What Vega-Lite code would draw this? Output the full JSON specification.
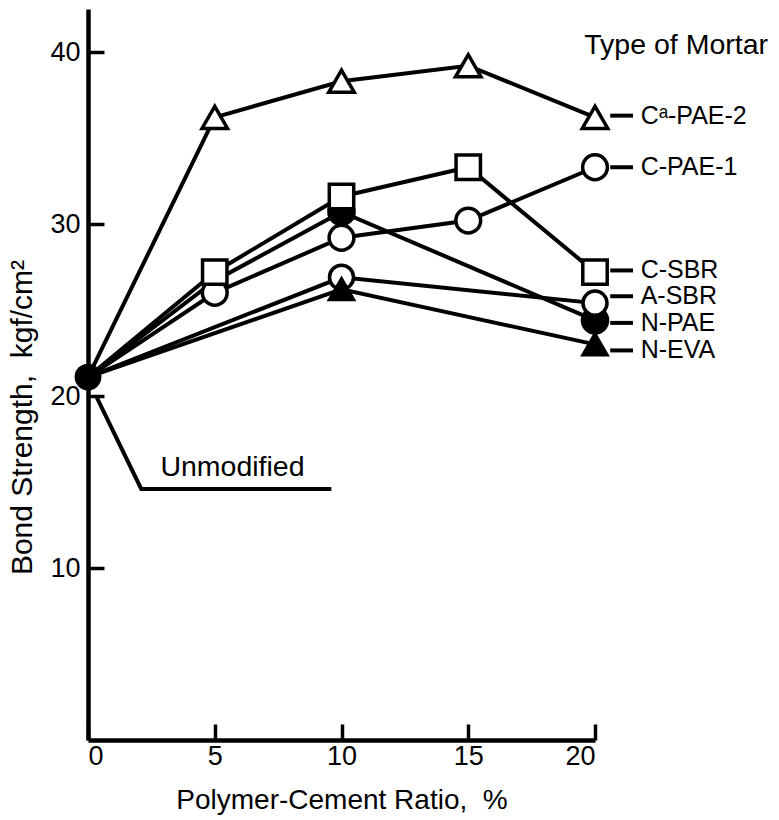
{
  "$schema": "https://vega.github.io/schema/vega-lite/v6.json",
  "width": 507,
  "height": 731,
  "autosize": {"type": "none"},
  "padding": {"left": 88, "top": 9, "right": 184, "bottom": 80},
  "background": "white",
  "config": {
    "view": {"stroke": null},
    "font": "Liberation Sans",
    "axis": {
      "domainColor": "black", "domainWidth": 4.5, "tickColor": "black", "tickWidth": 3.5,
      "tickSize": -16, "grid": false, "labelColor": "black", "titleColor": "black",
      "labelFont": "Liberation Sans", "titleFont": "Liberation Sans",
      "labelFontSize": 27, "titleFontSize": 28, "titleFontWeight": "normal"
    }
  },
  "datasets": {
    "series": [
      {"series": "Ca-PAE-2", "x": 0, "y": 21.1},
      {"series": "Ca-PAE-2", "x": 5, "y": 36.2},
      {"series": "Ca-PAE-2", "x": 10, "y": 38.3},
      {"series": "Ca-PAE-2", "x": 15, "y": 39.2},
      {"series": "Ca-PAE-2", "x": 20, "y": 36.2},
      {"series": "N-PAE", "x": 0, "y": 21.1},
      {"series": "N-PAE", "x": 5, "y": 26.7},
      {"series": "N-PAE", "x": 10, "y": 30.7},
      {"series": "N-PAE", "x": 20, "y": 24.4},
      {"series": "C-PAE-1", "x": 0, "y": 21.1},
      {"series": "C-PAE-1", "x": 5, "y": 26.0},
      {"series": "C-PAE-1", "x": 10, "y": 29.2},
      {"series": "C-PAE-1", "x": 15, "y": 30.2},
      {"series": "C-PAE-1", "x": 20, "y": 33.3},
      {"series": "C-SBR", "x": 0, "y": 21.1},
      {"series": "C-SBR", "x": 5, "y": 27.2},
      {"series": "C-SBR", "x": 10, "y": 31.6},
      {"series": "C-SBR", "x": 15, "y": 33.3},
      {"series": "C-SBR", "x": 20, "y": 27.2},
      {"series": "A-SBR", "x": 0, "y": 21.1},
      {"series": "A-SBR", "x": 10, "y": 26.9},
      {"series": "A-SBR", "x": 20, "y": 25.4},
      {"series": "N-EVA", "x": 0, "y": 21.1},
      {"series": "N-EVA", "x": 10, "y": 26.2},
      {"series": "N-EVA", "x": 20, "y": 23.0}
    ],
    "labels": [
      {"series": "Ca-PAE-2", "label": "Cᵃ-PAE-2", "y": 36.3},
      {"series": "C-PAE-1", "label": "C-PAE-1", "y": 33.3},
      {"series": "C-SBR", "label": "C-SBR", "y": 27.3},
      {"series": "A-SBR", "label": "A-SBR", "y": 25.8},
      {"series": "N-PAE", "label": "N-PAE", "y": 24.25},
      {"series": "N-EVA", "label": "N-EVA", "y": 22.65}
    ],
    "unmodLeader": [
      {"step": 1, "x": 0.35, "y": 19.9},
      {"step": 2, "x": 2.1, "y": 14.6},
      {"step": 3, "x": 9.6, "y": 14.6}
    ],
    "notes": [
      {"text": "Unmodified", "x": 5.7, "y": 15.9},
      {"text": "Type of Mortar", "x": 23.2, "y": 40.4}
    ],
    "origin": [{"x": 0, "y": 21.1}]
  },
  "layer": [
    {
      "data": {"name": "series"},
      "mark": {"type": "line", "color": "black", "strokeWidth": 4},
      "encoding": {
        "x": {"field": "x", "type": "quantitative",
          "scale": {"domain": [0, 20], "nice": false},
          "axis": {"values": [0, 5, 10, 15, 20], "labelPadding": 19,
            "title": "Polymer-Cement Ratio,\u00a0 %", "titleY": 60, "titleBaseline": "middle"}},
        "y": {"field": "y", "type": "quantitative",
          "scale": {"domain": [0, 42.5], "nice": false},
          "axis": {"values": [10, 20, 30, 40], "labelPadding": 24,
            "title": "Bond Strength,\u00a0 kgf/cm²", "titleFontSize": 30, "titleX": -66, "titleY": 408,
            "titleBaseline": "middle", "titleAlign": "center", "titleAngle": -90}},
        "detail": {"field": "series"},
        "order": {"field": "x"}
      }
    },
    {
      "data": {"name": "series"},
      "transform": [{"filter": "datum.x > 0 && !(datum.series == 'N-PAE' && datum.x == 5)"}],
      "mark": {"type": "point", "strokeWidth": 3.5, "stroke": "black", "opacity": 1, "filled": false},
      "encoding": {
        "x": {"field": "x", "type": "quantitative"},
        "y": {"field": "y", "type": "quantitative"},
        "shape": {"field": "series", "legend": null,
          "scale": {"domain": ["Ca-PAE-2", "N-PAE", "C-PAE-1", "C-SBR", "A-SBR", "N-EVA"],
            "range": ["triangle-up", "circle", "circle", "square", "circle", "triangle-up"]}},
        "fill": {"field": "series", "legend": null,
          "scale": {"domain": ["Ca-PAE-2", "N-PAE", "C-PAE-1", "C-SBR", "A-SBR", "N-EVA"],
            "range": ["white", "black", "white", "white", "white", "black"]}},
        "size": {"field": "series", "legend": null,
          "scale": {"domain": ["Ca-PAE-2", "N-PAE", "C-PAE-1", "C-SBR", "A-SBR", "N-EVA"],
            "range": [650, 560, 560, 500, 560, 620]}}
      }
    },
    {
      "data": {"name": "origin"},
      "mark": {"type": "point", "filled": true, "color": "black", "size": 720, "opacity": 1},
      "encoding": {
        "x": {"field": "x", "type": "quantitative"},
        "y": {"field": "y", "type": "quantitative"}
      }
    },
    {
      "data": {"name": "labels"},
      "mark": {"type": "rule", "color": "black", "strokeWidth": 4},
      "encoding": {
        "x": {"datum": 20.6},
        "x2": {"datum": 21.5},
        "y": {"field": "y", "type": "quantitative"}
      }
    },
    {
      "data": {"name": "labels"},
      "mark": {"type": "text", "align": "left", "baseline": "middle", "fontSize": 25, "color": "black"},
      "encoding": {
        "x": {"datum": 21.8},
        "y": {"field": "y", "type": "quantitative"},
        "text": {"field": "label"}
      }
    },
    {
      "data": {"name": "unmodLeader"},
      "mark": {"type": "line", "color": "black", "strokeWidth": 4},
      "encoding": {
        "x": {"field": "x", "type": "quantitative"},
        "y": {"field": "y", "type": "quantitative"},
        "order": {"field": "step"}
      }
    },
    {
      "data": {"name": "notes"},
      "mark": {"type": "text", "align": "center", "baseline": "middle", "fontSize": 28.5, "color": "black"},
      "encoding": {
        "x": {"field": "x", "type": "quantitative"},
        "y": {"field": "y", "type": "quantitative"},
        "text": {"field": "text"}
      }
    }
  ]
}
